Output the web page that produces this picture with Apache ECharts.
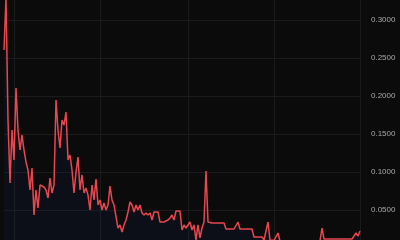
<!DOCTYPE html>
<html>
<head>
<meta charset="utf-8">
<script src="https://cdn.jsdelivr.net/npm/echarts@6/dist/echarts.min.js"></script>
<style>
html,body{margin:0;padding:0;background:#0b0b0b;}
#c{width:400px;height:240px;}
</style>
</head>
<body>
<div id="c"></div>
<script>
// Price series (one point per sample, oldest first)
const prices = [
  0.2605, 0.3300, 0.1684, 0.0855, 0.1553, 0.1158, 0.2105, 0.1553, 0.1289, 0.1487,
  0.1289, 0.1132, 0.1026, 0.0763, 0.1053, 0.0434, 0.0763, 0.0526, 0.0829, 0.0855,
  0.0803, 0.0763, 0.0658, 0.0921, 0.0724, 0.0829, 0.1947, 0.1553, 0.1316, 0.1684,
  0.1618, 0.1789, 0.1158, 0.1224, 0.1026, 0.0724, 0.1000, 0.1197, 0.0763, 0.0961,
  0.0724, 0.0789, 0.0697, 0.0500, 0.0829, 0.0632, 0.0908, 0.0566, 0.0632, 0.0500,
  0.0592, 0.0500, 0.0566, 0.0816, 0.0632, 0.0566, 0.0592, 0.0263, 0.0303, 0.0211,
  0.0303, 0.0368, 0.0474, 0.0605, 0.0566, 0.0474, 0.0566, 0.0500, 0.0566, 0.0461,
  0.0434, 0.0461, 0.0434, 0.0461, 0.0368, 0.0474, 0.0461, 0.0474, 0.0342, 0.0342,
  0.0342, 0.0329, 0.0368, 0.0395, 0.0434, 0.0368, 0.0487, 0.0474, 0.0487, 0.0237,
  0.0303, 0.0263, 0.0303, 0.0342, 0.0237, 0.0303, 0.0105, 0.0303, 0.0132, 0.0263,
  0.0342, 0.1013, 0.0342, 0.0329, 0.0329, 0.0329, 0.0329, 0.0329, 0.0329, 0.0329,
  0.0329, 0.0250, 0.0250, 0.0250, 0.0250, 0.0250, 0.0250, 0.0342, 0.0250, 0.0250,
  0.0250, 0.0250, 0.0250, 0.0250, 0.0250, 0.0145, 0.0145, 0.0145, 0.0145, 0.0145,
  0.0105, 0.0105, 0.0342, 0.0105, 0.0100, 0.0100, 0.0100, 0.0197, 0.0092, 0.0092,
  0.0092, 0.0092, 0.0092, 0.0092, 0.0092, 0.0092, 0.0092, 0.0092, 0.0092, 0.0092,
  0.0092, 0.0092, 0.0092, 0.0092, 0.0092, 0.0092, 0.0092, 0.0092, 0.0092, 0.0263,
  0.0118, 0.0118, 0.0118, 0.0118, 0.0118, 0.0118, 0.0118, 0.0118, 0.0118, 0.0118,
  0.0118, 0.0118, 0.0118, 0.0118, 0.0118, 0.0118, 0.0197, 0.0158, 0.0224
];
// Sample indices (time order)
const categories = prices.map((_, i) => String(i));
// Indices where vertical grid lines fall
const verticalGridIdx = [5, 48, 92, 135, 178];
// Y-axis scale
const yMin = 0, yMax = 0.35, yStep = 0.05;

const chart = echarts.init(document.getElementById('c'), null, {renderer: 'canvas'});
chart.setOption({
  backgroundColor: '#0b0b0b',
  animation: false,
  grid: {left: 4, right: 40, top: -18, bottom: -8, containLabel: false, outerBoundsMode: 'none'},
  xAxis: {
    type: 'category',
    data: categories,
    boundaryGap: false,
    axisLine: {show: false},
    axisTick: {show: false},
    axisLabel: {show: false},
    splitLine: {
      show: true,
      interval: (idx) => verticalGridIdx.includes(idx),
      lineStyle: {color: '#1b1b1b', width: 1}
    }
  },
  yAxis: {
    type: 'value',
    position: 'right',
    min: yMin, max: yMax, interval: yStep,
    axisLine: {show: false},
    axisTick: {show: false},
    axisLabel: {
      color: '#a8a8a8',
      fontSize: 8,
      fontFamily: 'sans-serif',
      margin: 11,
      formatter: (v) => v.toFixed(4)
    },
    splitLine: {show: true, lineStyle: {color: '#1b1b1b', width: 1}}
  },
  series: [{
    type: 'line',
    data: prices,
    symbol: 'none',
    lineStyle: {color: '#e8474d', width: 1.5},
    areaStyle: {color: 'rgba(40,60,160,0.12)'}
  }]
});
</script>
</body>
</html>
